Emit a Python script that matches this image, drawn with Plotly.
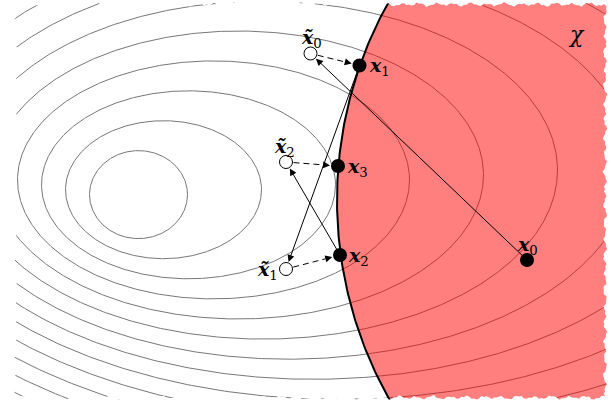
import numpy as np
import plotly.graph_objects as go

W, H = 613, 405

# Level sets of the objective: one ellipse per level (centre, semi-axes), screen units, y downward
ell_cx = [138.5, 163.5, 188.5, 213.5, 238.5, 263.5, 288.5, 313.5, 338.5, 363.5, 388.5, 413.5, 438.5, 463.5]
ell_cy = [194.6, 189.7, 184.8, 179.9, 175.0, 170.1, 165.2, 160.3, 155.4, 150.5, 145.6, 140.7, 135.8, 130.9]
ell_a = [49, 98, 147, 196, 245, 294, 343, 392, 441, 490, 539, 588, 637, 686]
ell_b = [44, 69, 94, 119, 144, 169, 194, 219, 244, 269, 294, 319, 344, 369]

# Feasible set chi: a disk
chi_center = (743.0, 200.0)
chi_radius = 406.0

# Projected-gradient iterates x_k (on/inside chi) and gradient steps x~_k (outside)
x_iter = [(527.0, 260.0), (359.5, 65.5), (340.0, 255.0), (338.0, 166.0)]
x_tilde = [(310.5, 53.5), (286.0, 269.0), (286.0, 162.0)]

# Text labels
iter_labels = ["<b><i>x</i></b><sub>0</sub>", "<b><i>x</i></b><sub>1</sub>",
               "<b><i>x</i></b><sub>2</sub>", "<b><i>x</i></b><sub>3</sub>"]
tilde_labels = ["<b><i>x\u0303</i></b><sub>0</sub>", "<b><i>x\u0303</i></b><sub>1</sub>",
                "<b><i>x\u0303</i></b><sub>2</sub>"]
set_label = "<i>\u03c7</i>"

FONT = "DejaVu Serif"
R_FILLED, R_HOLLOW = 7.0, 6.5

fig = go.Figure()

# contour ellipses
t = np.linspace(0, 2 * np.pi, 721)
for cx, cy, a, b in zip(ell_cx, ell_cy, ell_a, ell_b):
    fig.add_trace(go.Scatter(x=cx + a * np.cos(t), y=cy + b * np.sin(t), mode="lines",
                             line=dict(color="rgb(120,120,120)", width=1), hoverinfo="skip"))

# feasible disk, translucent red over the contours
cxd, cyd = chi_center
fig.add_trace(go.Scatter(x=cxd + chi_radius * np.cos(t), y=cyd + chi_radius * np.sin(t),
                         mode="lines", fill="toself", fillcolor="rgba(255,0,0,0.5)",
                         line=dict(color="black", width=2), hoverinfo="skip"))


# torn paper edges
def wobble(s, ph):
    return 1.3 * np.sin(0.37 * s + ph) + 0.8 * np.sin(0.93 * s + 2 * ph) + 0.5 * np.sin(2.3 * s + 3 * ph)


sx = np.arange(-6, W + 7, 2.5)
sy = np.arange(-6, H + 7, 2.5)
edges = [
    (list(sx) + [W + 20, -20], list(4.5 + wobble(sx, 0.4)) + [-20, -20]),
    (list(sx) + [W + 20, -20], list(397.5 + wobble(sx, 1.7)) + [H + 20, H + 20]),
    (list(15.5 + wobble(sy, 2.9)) + [-20, -20], list(sy) + [H + 20, -20]),
    (list(605.0 + wobble(sy, 4.1)) + [W + 20, W + 20], list(sy) + [H + 20, -20]),
]
for ex, ey in edges:
    fig.add_trace(go.Scatter(x=ex, y=ey, mode="lines", fill="toself", fillcolor="white",
                             line=dict(width=0, color="white"), hoverinfo="skip"))

HEAD = 7.5
annotations = []


def arrow(p, q, r0, r1, dashed):
    p, q = np.array(p), np.array(q)
    u = (q - p) / np.linalg.norm(q - p)
    tail = p + u * r0
    tip = q - u * r1
    if dashed:
        mid = tip - u * HEAD
        fig.add_trace(go.Scatter(x=[tail[0], mid[0]], y=[tail[1], mid[1]], mode="lines",
                                 line=dict(color="black", width=1, dash="6px,4px"),
                                 hoverinfo="skip"))
        start = tip - u * (HEAD + 1)
    else:
        start = tail
    annotations.append(dict(x=tip[0], y=tip[1], ax=start[0], ay=start[1], xref="x", yref="y",
                            axref="x", ayref="y", showarrow=True, arrowhead=2, arrowsize=1.4,
                            arrowwidth=1, arrowcolor="black", text=""))


# gradient steps (solid) and projections (dashed)
for k in range(3):
    arrow(x_iter[k], x_tilde[k], 0, R_HOLLOW + 1, False)
    arrow(x_tilde[k], x_iter[k + 1], R_HOLLOW + 1, R_FILLED + 1, True)

fig.add_trace(go.Scatter(x=[p[0] for p in x_tilde], y=[p[1] for p in x_tilde], mode="markers",
                         marker=dict(size=2 * R_HOLLOW, color="white",
                                     line=dict(color="black", width=1)), hoverinfo="skip"))
fig.add_trace(go.Scatter(x=[p[0] for p in x_iter], y=[p[1] for p in x_iter], mode="markers",
                         marker=dict(size=2 * R_FILLED, color="black"), hoverinfo="skip"))

# label placement: (dx, dy, xanchor) relative to each point
iter_off = [(0, -15, "center"), (7, 1, "left"), (6, 1, "left"), (7, 1, "left")]
tilde_off = [(1, -15, "center"), (-6, 1, "right"), (-2, -15, "center")]
for (px, py), lab, (dx, dy, xa) in zip(x_iter, iter_labels, iter_off):
    annotations.append(dict(x=px + dx, y=py + dy, text=lab, showarrow=False, xanchor=xa,
                            yanchor="middle", xref="x", yref="y",
                            font=dict(family=FONT, size=19, color="black")))
for (px, py), lab, (dx, dy, xa) in zip(x_tilde, tilde_labels, tilde_off):
    annotations.append(dict(x=px + dx, y=py + dy, text=lab, showarrow=False, xanchor=xa,
                            yanchor="middle", xref="x", yref="y",
                            font=dict(family=FONT, size=19, color="black")))
annotations.append(dict(x=576, y=34, text=set_label, showarrow=False, xref="x", yref="y",
                        font=dict(family=FONT, size=22, color="black")))

fig.update_layout(width=W, height=H, margin=dict(l=0, r=0, t=0, b=0),
                  paper_bgcolor="white", plot_bgcolor="white", showlegend=False,
                  annotations=annotations,
                  xaxis=dict(range=[0, W], visible=False, fixedrange=True),
                  yaxis=dict(range=[H, 0], visible=False, fixedrange=True))
fig.write_html("out.html")
